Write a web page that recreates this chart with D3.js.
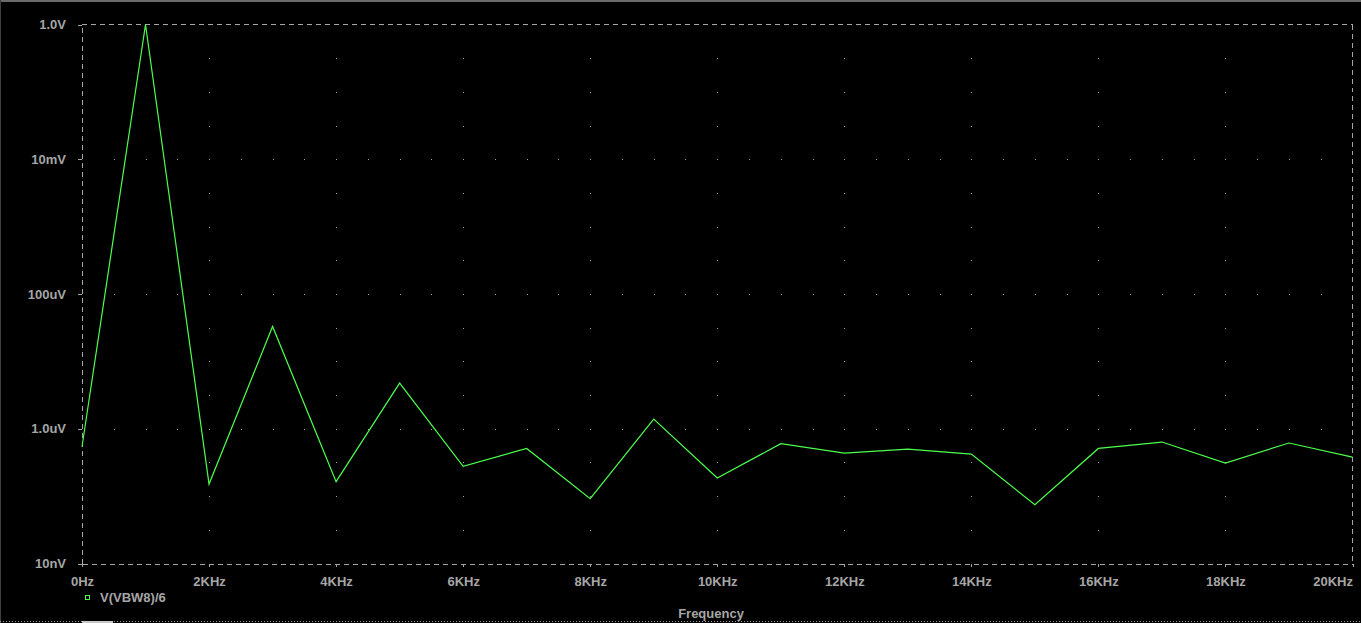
<!DOCTYPE html>
<html>
<head>
<meta charset="utf-8">
<script src="https://cdn.jsdelivr.net/npm/d3@7"></script>
<style>
html,body{margin:0;padding:0;background:#000;}
svg{display:block;}
text{font-family:"Liberation Sans",Arial,sans-serif;font-weight:bold;font-size:13px;fill:#a6a6a6;}
</style>
</head>
<body>
<script>
// ---- data ----
const freqs = [0,1000,2000,3000,4000,5000,6000,7000,8000,9000,10000,11000,12000,13000,14000,15000,16000,17000,18000,19000,20000];
const volts = [5.4e-7,1.0,1.51e-7,3.30e-5,1.64e-7,4.76e-6,2.76e-7,5.1e-7,9.15e-8,1.39e-6,1.86e-7,5.99e-7,4.36e-7,5.0e-7,4.21e-7,7.45e-8,5.1e-7,6.35e-7,3.10e-7,6.14e-7,3.80e-7];
const xTickValues = [0,2000,4000,6000,8000,10000,12000,14000,16000,18000,20000];
const xTickLabels = ["0Hz","2KHz","4KHz","6KHz","8KHz","10KHz","12KHz","14KHz","16KHz","18KHz","20KHz"];
const yTickValues = [1e-8,1e-6,1e-4,1e-2,1];
const yTickLabels = ["10nV","1.0uV","100uV","10mV","1.0V"];
const xTitle = "Frequency";
const seriesName = "V(VBW8)/6";

const W = 1361, H = 623;
const L = 82, R = 1352.5, T = 24.5, B = 563.5;
const grey = "#a6a6a6", green = "#4cff4c";

const svg = d3.select("body").append("svg").attr("width", W).attr("height", H);
svg.append("rect").attr("width", W).attr("height", H).attr("fill", "#000");

const x = d3.scaleLinear().domain([0, 20000]).range([L, R]);
const y = d3.scaleLog().domain([1e-8, 1]).range([B, T]);

// window frame
svg.append("rect").attr("x",0).attr("y",0).attr("width",W).attr("height",2).attr("fill","#6a6a6a");
svg.append("rect").attr("x",0).attr("y",0).attr("width",1).attr("height",H).attr("fill","#404040");
svg.append("line").attr("x1",0).attr("x2",W).attr("y1",621.5).attr("y2",621.5)
  .attr("stroke","#9a9a9a").attr("stroke-dasharray","1,2").attr("shape-rendering","crispEdges");
svg.append("rect").attr("x",82).attr("y",621).attr("width",31).attr("height",2).attr("fill","#c8c8c8");

// grid dots
const g = svg.append("g");
const vGridX = xTickValues.slice(1, -1);
const dy = (B - T) / 16;
vGridX.forEach(v => {
  for (let k = 1; k < 16; k++) {
    g.append("rect").attr("x", Math.round(x(v))).attr("y", Math.round(T + k*dy)).attr("width",1).attr("height",1).attr("fill", grey);
  }
});
const dx = (x(2000) - x(0)) / 4;
yTickValues.slice(1, -1).forEach(v => {
  for (let k = 1; k < 40; k++) {
    g.append("rect").attr("x", Math.round(L + k*dx)).attr("y", Math.round(y(v))).attr("width",1).attr("height",1).attr("fill", grey);
  }
});

// frame dashed lines
const dash = "5,4";
[[L,T,R,T],[R,T,R,B]].forEach(d => {
  svg.append("line").attr("x1",d[0]).attr("y1",d[1]).attr("x2",d[2]).attr("y2",d[3])
    .attr("stroke",grey).attr("stroke-dasharray",dash).attr("shape-rendering","crispEdges");
});

// axes
const xAxis = d3.axisBottom(x).tickValues(xTickValues)
  .tickFormat((d,i) => xTickLabels[i]).tickSize(3).tickSizeOuter(0).tickPadding(10);
const gx = svg.append("g").attr("transform", `translate(0,${B})`).call(xAxis);
gx.select(".domain").attr("stroke", grey).attr("stroke-dasharray", dash).attr("shape-rendering","crispEdges");
gx.selectAll(".tick line").attr("stroke", grey).attr("shape-rendering","crispEdges");
gx.selectAll(".tick text").attr("fill", grey).attr("font-size", 13).attr("font-family", null);
gx.selectAll(".tick text").filter((d,i,n) => i === n.length - 1).attr("text-anchor", "end");

const yAxis = d3.axisLeft(y).tickValues(yTickValues)
  .tickFormat((d,i) => yTickLabels[i]).tickSize(4).tickSizeOuter(0).tickPadding(12);
const gy = svg.append("g").attr("transform", `translate(${L},0)`).call(yAxis);
gy.select(".domain").attr("stroke", grey).attr("stroke-dasharray", dash).attr("shape-rendering","crispEdges");
gy.selectAll(".tick line").attr("stroke", grey).attr("shape-rendering","crispEdges");
gy.selectAll(".tick text").attr("fill", grey).attr("font-size", 13).attr("font-family", null);

// x title
svg.append("text").attr("x", 711).attr("y", 618).attr("text-anchor","middle").text(xTitle);

// legend
svg.append("rect").attr("x", 85.5).attr("y", 595.5).attr("width", 4).attr("height", 4)
  .attr("fill","none").attr("stroke", green).attr("stroke-width",1);
svg.append("text").attr("x", 100).attr("y", 602).text(seriesName);

// series line
const line = d3.line().x((d,i) => x(freqs[i])).y(d => y(d));
svg.append("path").datum(volts).attr("d", line)
  .attr("fill","none").attr("stroke", green).attr("stroke-width", 1.2);
</script>
</body>
</html>
